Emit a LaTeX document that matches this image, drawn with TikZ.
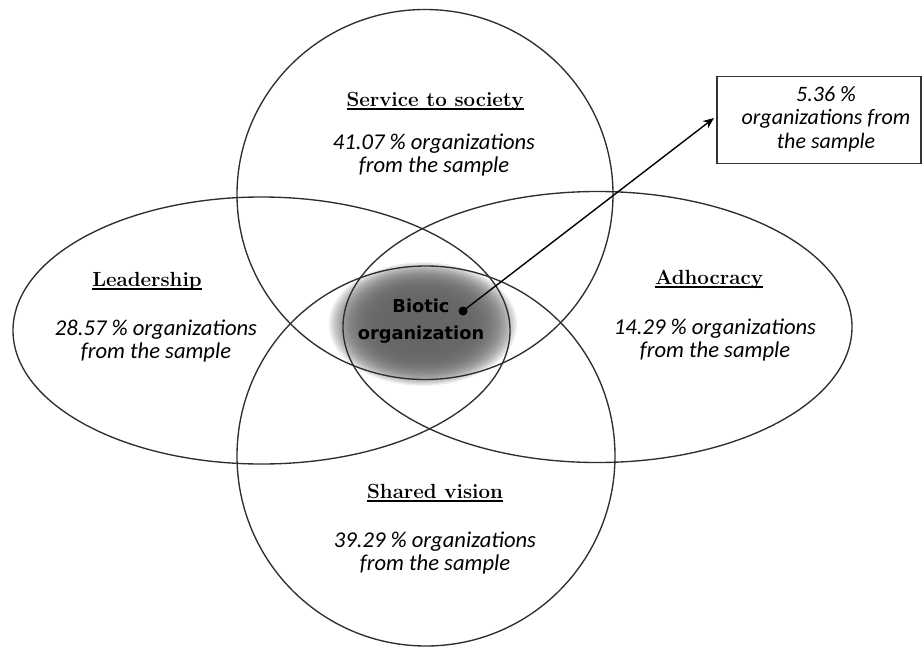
\documentclass[tikz,border=0pt]{standalone}
\usepackage{fontspec}
\usetikzlibrary{arrows.meta}
\newfontfamily\pctfont{Carlito}
\newfontfamily\biofont{DejaVu Sans}
\newcommand\hdul[1]{\setbox0\hbox{#1}\rlap{\rule[-3.5pt]{\wd0}{1.8pt}}\box0}
\begin{document}
\begin{tikzpicture}[x=1pt,y=-1pt,
  venn/.style={draw=black!82, line width=1.35pt},
  heading/.style={font=\bfseries\fontsize{20.5}{22}\selectfont, anchor=base, inner sep=0pt},
  pct/.style={font=\pctfont\itshape\fontsize{22.6}{23}\selectfont, align=center, inner sep=0pt},
  bio/.style={font=\biofont\bfseries\fontsize{17.8}{27}\selectfont, align=center, inner sep=0pt}]
\useasboundingbox (0,0) rectangle (924,648);
% shaded core (manual radial gradient)
\coordinate (cc) at (423,324);
\foreach \k in {0,...,49}{
  \pgfmathsetmacro\rr{1-\k/50}
  \pgfmathsetmacro\cc{60*(1-\rr^6)}
  \fill[black!\cc] (cc) ellipse [x radius={96pt*\rr}, y radius={63pt*\rr}];
}
% Venn shapes
\draw[venn] (425,194.5) ellipse [x radius=188pt, y radius=185pt];
\draw[venn] (426,456) ellipse [x radius=189pt, y radius=190pt];
\draw[venn] (261.5,330.5) ellipse [x radius=248.5pt, y radius=133.5pt];
\draw[venn] (597.5,327) ellipse [x radius=254.5pt, y radius=135.5pt];
% headings
\node[heading] (hserv) at (435,106) {\hdul{Service to society}};
\node[heading] (hlead) at (147,286) {\hdul{Leadership}};
\node[heading] (hadho) at (709,284) {\hdul{Adhocracy}};
\node[heading] (hshar) at (435,498) {\hdul{Shared vision}};
% percentages
\node[pct] (pserv) at (434,155.5) {41.07 \% organizations\\from the sample};
\node[pct] (plead) at (156,341.5) {28.57 \% organizations\\from the sample};
\node[pct] (padho) at (715,340) {14.29 \% organizations\\from the sample};
\node[pct] (pshar) at (435,553.5) {39.29 \% organizations\\from the sample};
% core label
\node[bio] (core) at (421,321) {Biotic\\organization};
\node[circle, fill=black, inner sep=0pt, minimum size=9pt] (dot) at (463,311) {};
% box
\node[draw=black!80, line width=1.3pt, minimum width=204pt, minimum height=87pt, inner sep=0pt] (box) at (819,120) {};
\node[pct, font=\pctfont\itshape\fontsize{22}{23.5}\selectfont] (boxtxt) at (826,119) {5.36 \%\\organizations from\\the sample};
\coordinate (tip) at (714,118);
\draw[line width=1.4pt, -{Stealth[length=11pt, width=9pt]}] (dot.center) -- (tip);
\end{tikzpicture}
\end{document}
